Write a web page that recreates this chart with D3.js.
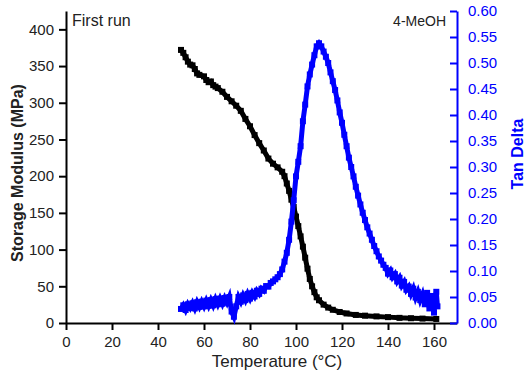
<!DOCTYPE html>
<html>
<head>
<meta charset="utf-8">
<script src="https://cdn.jsdelivr.net/npm/d3@7"></script>
<style>
  body { margin: 0; background: #fff; }
  svg { display: block; font-family: "Liberation Sans", Arial, sans-serif; }
</style>
</head>
<body>
<svg width="526" height="376"></svg>
<script>
// storage modulus (black) and tan delta (blue) vs temperature

var xTicks = [0, 20, 40, 60, 80, 100, 120, 140, 160];
var leftTicks = [0, 50, 100, 150, 200, 250, 300, 350, 400];
var rightTicks = [0, 0.05, 0.1, 0.15, 0.2, 0.25, 0.3, 0.35, 0.4, 0.45, 0.5, 0.55, 0.6];

var modTemp = [50, 51, 52, 53, 54, 55, 56, 57, 58, 60, 61, 62, 63, 64, 65, 66, 68, 70, 72, 74, 76, 78, 80, 82, 84, 86, 88, 90, 92, 94, 95, 96, 97, 98, 99, 100, 101, 102, 103, 104, 105, 106, 107, 108, 109, 110, 112, 114, 116, 119, 122, 126, 130, 135, 140, 145, 150, 155, 161];
var modulus = [372, 368, 362, 356, 352, 351, 346, 340, 338, 336, 331, 328, 329, 324, 322, 320, 315, 308, 302, 296, 289, 278, 268, 256, 245, 235, 224, 217, 212, 206, 200, 190, 180, 168, 158, 145, 132, 118, 104, 89, 74, 60, 50, 42, 35, 31, 25, 21, 18, 15, 13, 11, 10, 9, 8, 7, 6.5, 6, 5.5];

var tanTemp = [50, 51, 52, 53, 54, 55, 56, 57, 58, 59, 60, 61, 62, 63, 64, 65, 66, 67, 68, 69, 70, 71, 72, 73, 74, 75, 76, 77, 78, 79, 80, 81, 82, 83, 84, 85, 86, 87, 88, 89, 90, 91, 92, 93, 94, 95, 96, 97, 98, 99, 100, 101, 102, 103, 104, 105, 106, 107, 108, 109, 110, 111, 112, 113, 114, 115, 116, 117, 118, 119, 120, 121, 122, 123, 124, 125, 126, 127, 128, 129, 130, 131, 132, 133, 134, 135, 136, 137, 138, 139, 140, 141, 142, 143, 144, 145, 146, 147, 148, 149, 150, 151, 152, 153, 154, 155, 156, 157, 158, 159, 160, 161, 161.5];
var tanDelta = [0.027, 0.034, 0.025, 0.036, 0.029, 0.038, 0.028, 0.040, 0.031, 0.041, 0.032, 0.043, 0.033, 0.044, 0.034, 0.046, 0.036, 0.047, 0.037, 0.048, 0.039, 0.050, 0.022, 0.012, 0.032, 0.050, 0.041, 0.053, 0.044, 0.056, 0.047, 0.058, 0.051, 0.062, 0.056, 0.066, 0.062, 0.071, 0.070, 0.077, 0.080, 0.084, 0.088, 0.094, 0.103, 0.118, 0.135, 0.160, 0.195, 0.236, 0.282, 0.310, 0.340, 0.388, 0.420, 0.455, 0.478, 0.497, 0.515, 0.532, 0.538, 0.532, 0.522, 0.512, 0.500, 0.482, 0.465, 0.448, 0.428, 0.405, 0.385, 0.362, 0.340, 0.318, 0.300, 0.282, 0.262, 0.245, 0.228, 0.212, 0.198, 0.184, 0.172, 0.160, 0.148, 0.138, 0.128, 0.120, 0.112, 0.106, 0.095, 0.101, 0.088, 0.094, 0.080, 0.087, 0.072, 0.079, 0.064, 0.070, 0.056, 0.066, 0.049, 0.060, 0.044, 0.055, 0.036, 0.058, 0.028, 0.052, 0.020, 0.060, 0.032];

var svg = d3.select('svg');
var blue = '#0000ff';
var plotLeft = 66, plotRight = 457, plotTop = 11, plotBottom = 323;

var xScale = d3.scaleLinear().domain([0, 170]).range([plotLeft, plotRight]);
var yScale = d3.scaleLinear().domain([0, 425]).range([plotBottom, plotTop]);
var y2Scale = d3.scaleLinear().domain([0, 0.6]).range([plotBottom, plotTop]);

// minor ticks
function minors(scale, step){
  var d = scale.domain();
  return d3.range(d[0], d[1] + step / 2, step);
}

var gx = svg.append('g').attr('transform', 'translate(0,' + plotBottom + ')');
gx.call(d3.axisBottom(xScale).tickValues(minors(xScale, 10)).tickSize(4).tickFormat(''));
gx.call(d3.axisBottom(xScale).tickValues(xTicks).tickSize(7).tickSizeOuter(0));

var gy = svg.append('g').attr('transform', 'translate(' + plotLeft + ',0)');
gy.call(d3.axisLeft(yScale).tickValues(minors(yScale, 25)).tickSize(4).tickFormat(''));
gy.call(d3.axisLeft(yScale).tickValues(leftTicks).tickSize(7).tickSizeOuter(0));

var gy2 = svg.append('g').attr('transform', 'translate(' + plotRight + ',0)');
gy2.call(d3.axisRight(y2Scale).tickValues(minors(y2Scale, 0.025)).tickSize(-4).tickFormat(''));
gy2.call(d3.axisRight(y2Scale).tickValues(rightTicks).tickSize(-7).tickSizeOuter(0)
  .tickFormat(d3.format('.2f')));

svg.selectAll('.domain, .tick line').attr('stroke-width', 2);
gx.selectAll('text').attr('fill', '#222').style('font-size', '15px').attr('dy', '0.9em');
gy.selectAll('text').attr('fill', '#222').style('font-size', '15px').attr('x', -12);
gy2.selectAll('.domain, .tick line').attr('stroke', blue);
gy2.selectAll('text').attr('fill', blue).style('font-size', '15px').attr('x', 11);

// storage modulus
var modPts = modTemp.map(function(t, i){ return [t, modulus[i]]; });
svg.append('path')
  .datum(modPts)
  .attr('fill', 'none')
  .attr('stroke', '#000')
  .attr('stroke-width', 5)
  .attr('d', d3.line().x(function(d){ return xScale(d[0]); }).y(function(d){ return yScale(d[1]); }));
svg.append('g').selectAll('rect')
  .data(modPts)
  .enter()
  .append('rect')
  .attr('x', function(d){ return xScale(d[0]) - 3; })
  .attr('y', function(d){ return yScale(d[1]) - 3; })
  .attr('width', 6)
  .attr('height', 6)
  .attr('fill', '#000');

// tan delta
var tanPts = tanTemp.map(function(t, i){ return [t, tanDelta[i]]; });
svg.append('path')
  .datum(tanPts)
  .attr('fill', 'none')
  .attr('stroke', blue)
  .attr('stroke-width', 5)
  .attr('d', d3.line().x(function(d){ return xScale(d[0]); }).y(function(d){ return y2Scale(d[1]); }));
svg.append('g').selectAll('rect')
  .data(tanPts)
  .enter()
  .append('rect')
  .attr('x', function(d){ return xScale(d[0]) - 3; })
  .attr('y', function(d){ return y2Scale(d[1]) - 3; })
  .attr('width', 6)
  .attr('height', 6)
  .attr('fill', blue);

// titles
svg.append('text')
  .attr('x', 277).attr('y', 367)
  .attr('text-anchor', 'middle')
  .style('font-size', '17px')
  .attr('fill', '#222')
  .text('Temperature (°C)');
svg.append('text')
  .attr('transform', 'translate(23,173) rotate(-90)')
  .attr('text-anchor', 'middle')
  .style('font-size', '16px')
  .style('font-weight', 'bold')
  .attr('fill', '#222')
  .text('Storage Modulus (MPa)');
svg.append('text')
  .attr('transform', 'translate(523,154) rotate(-90)')
  .attr('text-anchor', 'middle')
  .style('font-size', '16px')
  .style('font-weight', 'bold')
  .attr('fill', blue)
  .text('Tan Delta');
svg.append('text')
  .attr('x', 72).attr('y', 26)
  .style('font-size', '16px')
  .attr('fill', '#222')
  .text('First run');
svg.append('text')
  .attr('x', 446).attr('y', 26)
  .attr('text-anchor', 'end')
  .style('font-size', '14px')
  .attr('fill', '#222')
  .text('4-MeOH');
</script>
</body>
</html>
